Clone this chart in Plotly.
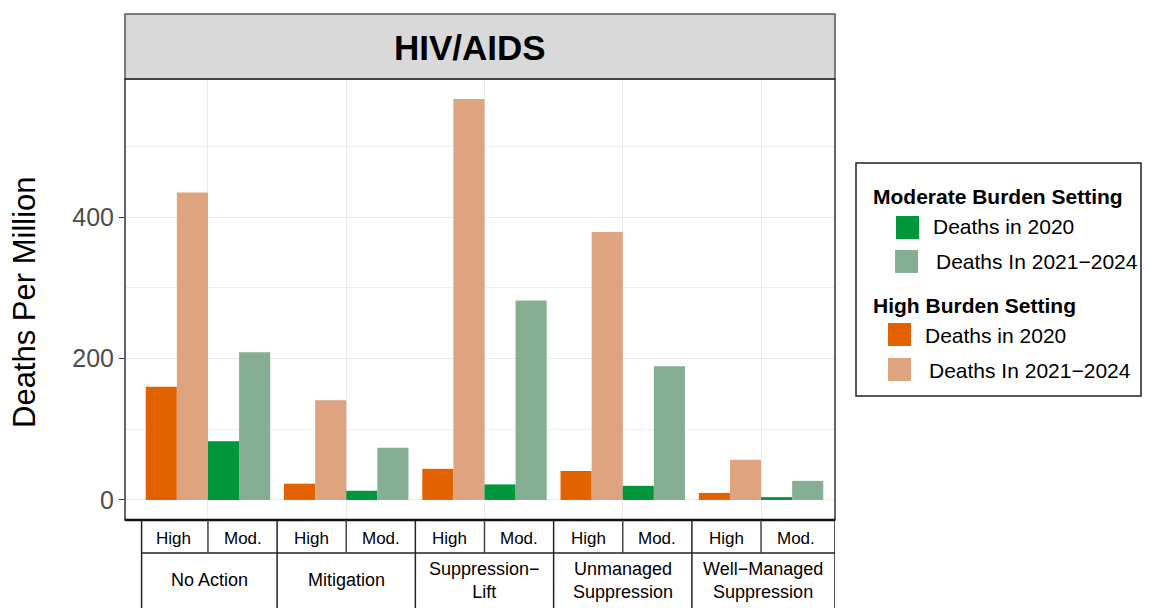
import plotly.graph_objects as go

# ---- data ----
scenarios = ["No Action", "Mitigation", "Suppression−Lift",
             "Unmanaged Suppression", "Well−Managed Suppression"]
scenario_labels = ["No Action", "Mitigation", "Suppression−<br>Lift",
                   "Unmanaged<br>Suppression", "Well−Managed<br>Suppression"]
setting_labels = ["High", "Mod."]
high_2020 = [160, 23, 44, 41, 10]
high_2124 = [435, 141, 567, 379, 57]
mod_2020 = [83, 13, 22, 20, 4]
mod_2124 = [209, 74, 282, 189, 27]
y_ticks = [0, 200, 400]

C_ORANGE = "#E36200"
C_PEACH = "#DDA47F"
C_GREEN = "#00963C"
C_LGREEN = "#85AE93"
FONT = "Arial, Liberation Sans, sans-serif"

# page body has an 8px margin; work in reference pixels and shift by it
OFF = 8
W, H = 1150 - 2 * OFF, 608 - OFF
L, R, T, B = 125 - OFF, 835 - OFF, 79 - OFF, 520 - OFF


def xp(px):
    return (px - OFF - L) / (R - L)


def yp(py):
    return (B - (py - OFF)) / (B - T)


fig = go.Figure()
series = [
    ("High Burden Setting", "Deaths in 2020", high_2020, C_ORANGE),
    ("High Burden Setting", "Deaths In 2021−2024", high_2124, C_PEACH),
    ("Moderate Burden Setting", "Deaths in 2020", mod_2020, C_GREEN),
    ("Moderate Burden Setting", "Deaths In 2021−2024", mod_2124, C_LGREEN),
]
for grp, name, vals, col in series:
    fig.add_trace(go.Bar(x=scenarios, y=vals, name=name, legendgroup=grp,
                         marker=dict(color=col, line=dict(width=0)),
                         showlegend=False))

shapes = []
annotations = []

# strip
shapes.append(dict(type="rect", xref="paper", yref="paper", x0=0, x1=1,
                   y0=1, y1=yp(14), fillcolor="#D9D9D9",
                   line=dict(color="#555555", width=1.5), layer="above"))
annotations.append(dict(text="<b>HIV/AIDS</b>", xref="paper", yref="paper",
                        x=xp(470), y=yp(47), xanchor="center", yanchor="middle",
                        showarrow=False, font=dict(size=35, color="black", family=FONT)))
# panel border
shapes.append(dict(type="rect", xref="paper", yref="paper", x0=0, x1=1, y0=0, y1=1,
                   line=dict(color="#333333", width=1.5), layer="above"))

# y axis title
annotations.append(dict(text="Deaths Per Million", xref="paper", yref="paper",
                        x=xp(24), y=yp(302), xanchor="center", yanchor="middle",
                        textangle=-90, showarrow=False,
                        font=dict(size=31, color="black", family=FONT)))

# x-axis table beneath panel
n = len(scenarios)
left_edge = -0.48
right_edge = 4.535
row1_bottom = yp(553)
row2_bottom = yp(612)
line_c = "#222222"
shapes.append(dict(type="line", xref="paper", yref="paper", x0=0, x1=1, y0=0, y1=0,
                   line=dict(color="#111111", width=2.5), layer="above"))
shapes.append(dict(type="line", xref="x", yref="paper", x0=left_edge, x1=right_edge,
                   y0=row1_bottom, y1=row1_bottom, line=dict(color=line_c, width=1.5)))
for xv in (left_edge, right_edge):
    shapes.append(dict(type="line", xref="x", yref="paper", x0=xv, x1=xv,
                       y0=0, y1=row2_bottom, line=dict(color=line_c, width=1.5)))
for i in range(n):
    shapes.append(dict(type="line", xref="x", yref="paper", x0=i, x1=i,
                       y0=0, y1=row1_bottom, line=dict(color="#444444", width=1.5)))
    if i < n - 1:
        shapes.append(dict(type="line", xref="x", yref="paper", x0=i + 0.5, x1=i + 0.5,
                           y0=0, y1=row2_bottom, line=dict(color=line_c, width=1.5)))
    for j, lab in enumerate(setting_labels):
        annotations.append(dict(text=lab, xref="x", yref="paper",
                                x=i - 0.25 + 0.5 * j, y=yp(538), xanchor="center",
                                yanchor="middle", showarrow=False,
                                font=dict(size=17, color="black", family=FONT)))
    lo = left_edge if i == 0 else i - 0.5
    hi = right_edge if i == n - 1 else i + 0.5
    annotations.append(dict(text=scenario_labels[i], xref="x", yref="paper",
                            x=(lo + hi) / 2, y=yp(580), xanchor="center",
                            yanchor="middle", showarrow=False,
                            font=dict(size=18, color="black", family=FONT)))

# manual legend
shapes.append(dict(type="rect", xref="paper", yref="paper", x0=xp(856), x1=xp(1141),
                   y0=yp(396), y1=yp(163), line=dict(color="#222222", width=1.5),
                   fillcolor="white"))
legend_items = [
    ("title", "Moderate Burden Setting", None, 871, 196.5),
    ("item", "Deaths in 2020", C_GREEN, (896, 216, 931), 227),
    ("item", "Deaths In 2021−2024", C_LGREEN, (895, 250, 934), 261.5),
    ("title", "High Burden Setting", None, 871, 305),
    ("item", "Deaths in 2020", C_ORANGE, (888, 323, 923), 335),
    ("item", "Deaths In 2021−2024", C_PEACH, (888, 358, 927), 370),
]
for kind, text, col, pos, yc in legend_items:
    if kind == "title":
        annotations.append(dict(text=f"<b>{text}</b>", xref="paper", yref="paper",
                                x=xp(pos), y=yp(yc), xanchor="left", yanchor="middle",
                                showarrow=False,
                                font=dict(size=21, color="black", family=FONT)))
    else:
        sx, sy, tx = pos
        shapes.append(dict(type="rect", xref="paper", yref="paper",
                           x0=xp(sx), x1=xp(sx + 23), y0=yp(sy + 23), y1=yp(sy),
                           fillcolor=col, line=dict(width=0)))
        annotations.append(dict(text=text, xref="paper", yref="paper",
                                x=xp(tx), y=yp(yc), xanchor="left", yanchor="middle",
                                showarrow=False,
                                font=dict(size=21, color="black", family=FONT)))

fig.update_layout(
    width=W, height=H,
    margin=dict(l=L, r=W - R, t=T, b=H - B, pad=0),
    paper_bgcolor="white", plot_bgcolor="white",
    barmode="group", bargap=0.1, bargroupgap=0,
    showlegend=False,
    shapes=shapes, annotations=annotations,
    font=dict(family=FONT),
    xaxis=dict(type="category", range=[-0.6, 4.535], showticklabels=False,
               showgrid=True, gridcolor="#EBEBEB", gridwidth=1.2, ticks="",
               showline=False, zeroline=False, fixedrange=True),
    yaxis=dict(range=[-28.35, 595.4], tickvals=y_ticks, ticktext=[str(v) for v in y_ticks],
               showgrid=True, gridcolor="#EBEBEB", gridwidth=1.2,
               minor=dict(tickvals=[100, 300, 500], showgrid=True,
                          gridcolor="#EFEFEF", gridwidth=1, ticks=""),
               ticks="outside", ticklen=5, tickwidth=1.2, tickcolor="#333333",
               tickfont=dict(size=25, color="#4D4D4D", family=FONT),
               showline=False, zeroline=False, fixedrange=True),
)

fig.write_html("out.html")
